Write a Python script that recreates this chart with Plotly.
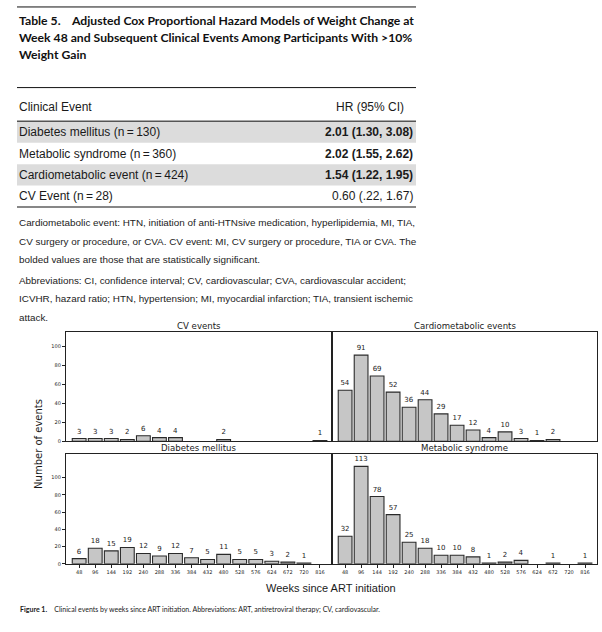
import plotly.graph_objects as go

# ---------------- data ----------------
weeks = ["48", "96", "144", "192", "240", "288", "336", "384", "432", "480",
         "528", "576", "624", "672", "720", "816"]
cv_events = [3, 3, 3, 2, 6, 4, 4, None, None, 2, None, None, None, None, None, 1]
cardiometabolic = [54, 91, 69, 52, 36, 44, 29, 17, 12, 4, 10, 3, 1, 2, None, None]
diabetes = [6, 18, 15, 19, 12, 9, 12, 7, 5, 11, 5, 5, 3, 2, 1, None]
metabolic = [32, 113, 78, 57, 25, 18, 10, 10, 8, 1, 2, 4, None, 1, None, 1]
panel_titles = ["CV events", "Cardiometabolic events", "Diabetes mellitus", "Metabolic syndrome"]
y_ticks = [0, 20, 40, 60, 80, 100]

table_title = ["Table 5.\u00a0\u00a0\u00a0\u00a0Adjusted Cox Proportional Hazard Models of Weight Change at",
               "Week 48 and Subsequent Clinical Events Among Participants With >10%",
               "Weight Gain"]
table_header = ["Clinical Event", "HR (95% CI)"]
table_events = ["Diabetes mellitus (n\u2009=\u2009130)", "Metabolic syndrome (n\u2009=\u2009360)",
                "Cardiometabolic event (n\u2009=\u2009424)", "CV Event (n\u2009=\u200928)"]
hr_values = ["2.01 (1.30, 3.08)", "2.02 (1.55, 2.62)", "1.54 (1.22, 1.95)", "0.60 (.22, 1.67)"]
significant = [True, True, True, False]
footnotes = ["Cardiometabolic event: HTN, initiation of anti-HTNsive medication, hyperlipidemia, MI, TIA,",
             "CV surgery or procedure, or CVA. CV event: MI, CV surgery or procedure, TIA or CVA. The",
             "bolded values are those that are statistically significant."]
abbreviations = ["Abbreviations: CI, confidence interval; CV, cardiovascular; CVA, cardiovascular accident;",
                 "ICVHR, hazard ratio; HTN, hypertension; MI, myocardial infarction; TIA, transient ischemic",
                 "attack."]
x_title = "Weeks since ART initiation"
y_title = "Number of events"
caption_bold = "Figure 1."
caption_text = "Clinical events by weeks since ART initiation. Abbreviations: ART, antiretroviral therapy; CV, cardiovascular."

# ---------------- layout helpers ----------------
W, H = 602, 632
def px(x):
    return x / W
def py(y):
    return 1 - y / H

fig = go.Figure()

series = [cv_events, cardiometabolic, diabetes, metabolic]
axes = [("x", "y"), ("x2", "y2"), ("x3", "y3"), ("x4", "y4")]
for vals, (xa, ya) in zip(series, axes):
    fig.add_trace(go.Bar(
        x=weeks, y=vals, xaxis=xa, yaxis=ya, width=0.86,
        marker=dict(color="#c6c6c6", line=dict(color="#2a2a2a", width=1.1)),
        text=["" if v is None else str(v) for v in vals],
        textposition="outside", cliponaxis=False, constraintext="none",
        textfont=dict(family="DejaVu Sans", size=7, color="#222"),
        showlegend=False, hoverinfo="skip"))

L = [px(66), px(332)]
R = [px(332), px(597)]
TOP = [py(443.5), py(334)]
BOT = [py(566.5), py(456)]

common_x = dict(type="category", range=[-0.82, 15.75], showline=True, mirror=True,
                linecolor="#222", linewidth=1.2, showgrid=False, zeroline=False,
                fixedrange=True)
common_y = dict(showline=True, mirror=True, linecolor="#222", linewidth=1.2,
                showgrid=False, zeroline=False, tickvals=y_ticks)

tickfont = dict(family="DejaVu Sans", size=5, color="#222")
fig.update_layout(
    width=W, height=H, margin=dict(l=0, r=0, t=0, b=0),
    paper_bgcolor="white", plot_bgcolor="white", bargap=0.1,
    font=dict(family="DejaVu Sans", color="#222"),
    xaxis=dict(common_x, domain=L, anchor="y", ticks="", showticklabels=False),
    xaxis2=dict(common_x, domain=R, anchor="y2", ticks="", showticklabels=False),
    xaxis3=dict(common_x, domain=L, anchor="y3", ticks="outside", ticklen=3,
                tickcolor="#222", tickfont=tickfont),
    xaxis4=dict(common_x, domain=R, anchor="y4", ticks="outside", ticklen=3,
                tickcolor="#222", tickfont=tickfont),
    yaxis=dict(common_y, domain=TOP, anchor="x", range=[0, 115], ticks="outside",
               ticklen=3, tickcolor="#222", tickfont=tickfont),
    yaxis2=dict(common_y, domain=TOP, anchor="x2", range=[0, 115], ticks="",
                showticklabels=False),
    yaxis3=dict(common_y, domain=BOT, anchor="x3", range=[0, 127.5], ticks="outside",
                ticklen=3, tickcolor="#222", tickfont=tickfont),
    yaxis4=dict(common_y, domain=BOT, anchor="x4", range=[0, 127.5], ticks="",
                showticklabels=False),
)

ann = []
def text(x, y, s, size, family="Liberation Sans", anchor="left", color="#1a1a1a", angle=0):
    ann.append(dict(x=px(x), y=py(y), xref="paper", yref="paper", text=s, showarrow=False,
                    xanchor=anchor, yanchor="middle", textangle=angle,
                    font=dict(family=family, size=size, color=color)))

# panel titles
text((66 + 332) / 2, 328, panel_titles[0], 8.6, "DejaVu Sans", "center")
text((332 + 597) / 2, 328, panel_titles[1], 8.6, "DejaVu Sans", "center")
text((66 + 332) / 2, 450.5, panel_titles[2], 8.6, "DejaVu Sans", "center")
text((332 + 597) / 2, 450.5, panel_titles[3], 8.6, "DejaVu Sans", "center")
text(39, 446, y_title, 10, "DejaVu Sans", "center", angle=-90)
text(331, 591, x_title, 11, "Liberation Sans", "center")
text(18, 612, "<b>" + caption_bold + "</b>\u00a0\u00a0\u00a0\u00a0" + caption_text, 7.0, "Lato")

# table title
for i, line in enumerate(table_title):
    text(17, 20.5 + 17 * i, "<b>" + line + "</b>", 12.2, "Lato", color="#111")

shapes = []
def hline(y, x0=17, x1=416, w=1.0, color="#111"):
    shapes.append(dict(type="line", xref="paper", yref="paper", x0=px(x0), x1=px(x1),
                       y0=py(y), y1=py(y), line=dict(color=color, width=w)))

hline(7)
hline(88)
# header
text(17, 108, table_header[0], 12)
text(406, 108, table_header[1], 12, anchor="right")
row_top = 122
row_h = 21.5
for i, (ev, hr, sig) in enumerate(zip(table_events, hr_values, significant)):
    y0 = row_top + i * row_h
    if i % 2 == 0:
        shapes.append(dict(type="rect", xref="paper", yref="paper", x0=px(17), x1=px(416),
                           y0=py(y0), y1=py(y0 + row_h), line=dict(width=0),
                           fillcolor="#dcdcdc", layer="below"))
    text(17, y0 + row_h / 2, ev, 12)
    text(415, y0 + row_h / 2, "<b>" + hr + "</b>" if sig else hr, 12, anchor="right")
hline(121.8, w=1.6, color="#555")
hline(208, w=1.2)

for i, line in enumerate(footnotes):
    text(17, 224 + 18.5 * i, line, 9.9, color="#222")
for i, line in enumerate(abbreviations):
    text(17, 282 + 18.3 * i, line, 9.9, color="#222")

fig.update_layout(annotations=ann, shapes=shapes)
fig.write_html("out.html")
